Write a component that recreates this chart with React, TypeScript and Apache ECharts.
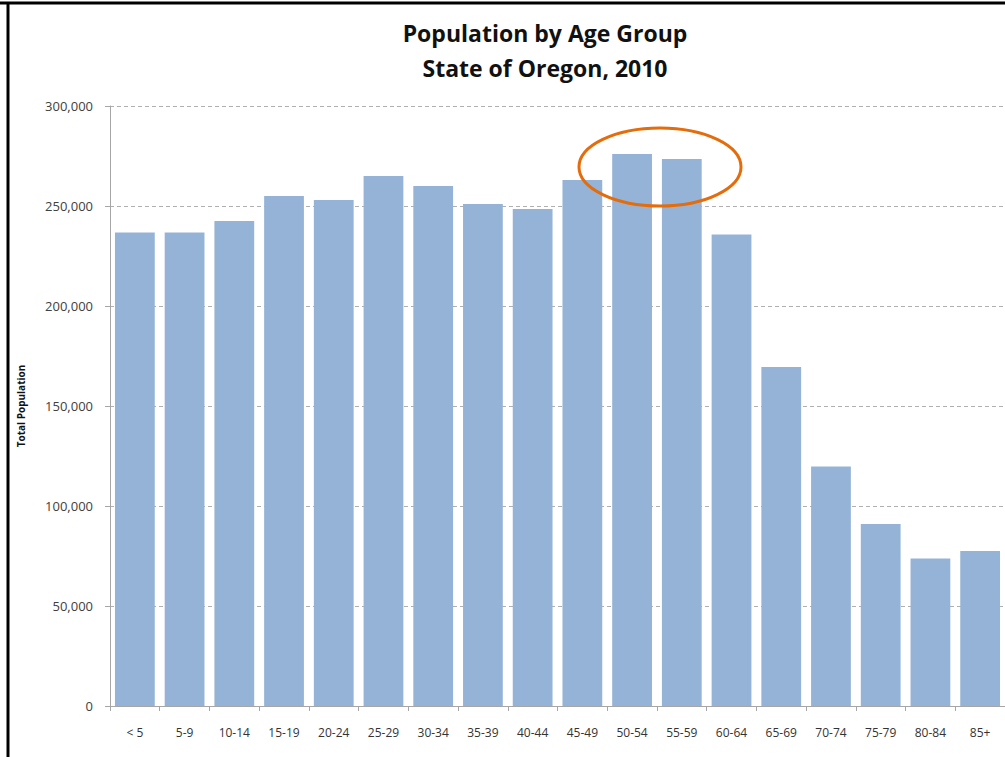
import React, { useEffect, useRef } from "react";
import * as echarts from "echarts";

const categories = ["< 5", "5-9", "10-14", "15-19", "20-24", "25-29", "30-34", "35-39", "40-44", "45-49", "50-54", "55-59", "60-64", "65-69", "70-74", "75-79", "80-84", "85+"];
const population = [236800, 236800, 242500, 255000, 253000, 265000, 260000, 251000, 248500, 263000, 276000, 273500, 235800, 169500, 119800, 91000, 73800, 77500];
const yTicks = [0, 50000, 100000, 150000, 200000, 250000, 300000];

export default function App() {
  const ref = useRef<HTMLDivElement>(null);
  useEffect(() => {
    const chart = echarts.init(ref.current!, undefined, { renderer: "svg" });
    const font = "'Open Sans', 'Liberation Sans', sans-serif";
    chart.setOption({
      animation: false,
      backgroundColor: "#ffffff",
      title: {
        text: "Population by Age Group\nState of Oregon, 2010",
        left: 540,
        textAlign: "center",
        top: 10,
        textStyle: { fontFamily: font, fontSize: 23, fontWeight: "bold", color: "#111", lineHeight: 35 },
      },
      grid: { left: 110, top: 106, width: 900, height: 600 },
      xAxis: {
        type: "category",
        data: categories,
        axisLine: { lineStyle: { color: "#a6a6a6" } },
        axisTick: { show: true, alignWithLabel: false, length: 5, lineStyle: { color: "#a6a6a6" } },
        axisLabel: { fontFamily: font, fontSize: 12, color: "#333", margin: 20, interval: 0 },
      },
      yAxis: {
        type: "value",
        min: 0,
        max: 300000,
        interval: 50000,
        name: "Total Population",
        nameLocation: "middle",
        nameGap: 84,
        nameTextStyle: { fontFamily: font, fontSize: 10, fontWeight: "bold", color: "#111" },
        axisLine: { show: true, lineStyle: { color: "#a6a6a6" } },
        axisTick: { show: true, length: 5, lineStyle: { color: "#a6a6a6" } },
        axisLabel: {
          fontFamily: font,
          fontSize: 13,
          color: "#404040",
          margin: 17,
          formatter: (v: number) => (yTicks.includes(v) ? v.toLocaleString("en-US") : ""),
        },
        splitLine: { lineStyle: { color: "#b0b0b0", type: [4, 3] } },
      },
      series: [
        {
          type: "bar",
          data: population,
          barCategoryGap: "20%",
          itemStyle: { color: "#95b3d7" },
        },
      ],
      graphic: [
        { type: "line", shape: { x1: 0, y1: 3, x2: 1005, y2: 3 }, style: { stroke: "#000", lineWidth: 3 } },
        { type: "line", shape: { x1: 8, y1: 2, x2: 8, y2: 757 }, style: { stroke: "#000", lineWidth: 3 } },
        { type: "ellipse", shape: { cx: 660, cy: 167, rx: 81, ry: 39 }, style: { fill: "none", stroke: "#e46c0a", lineWidth: 3 }, z: 100 },
      ],
    });
    return () => chart.dispose();
  }, []);
  return <div ref={ref} style={{ position: "fixed", left: 0, top: 0, width: 1005, height: 757 }} />;
}
